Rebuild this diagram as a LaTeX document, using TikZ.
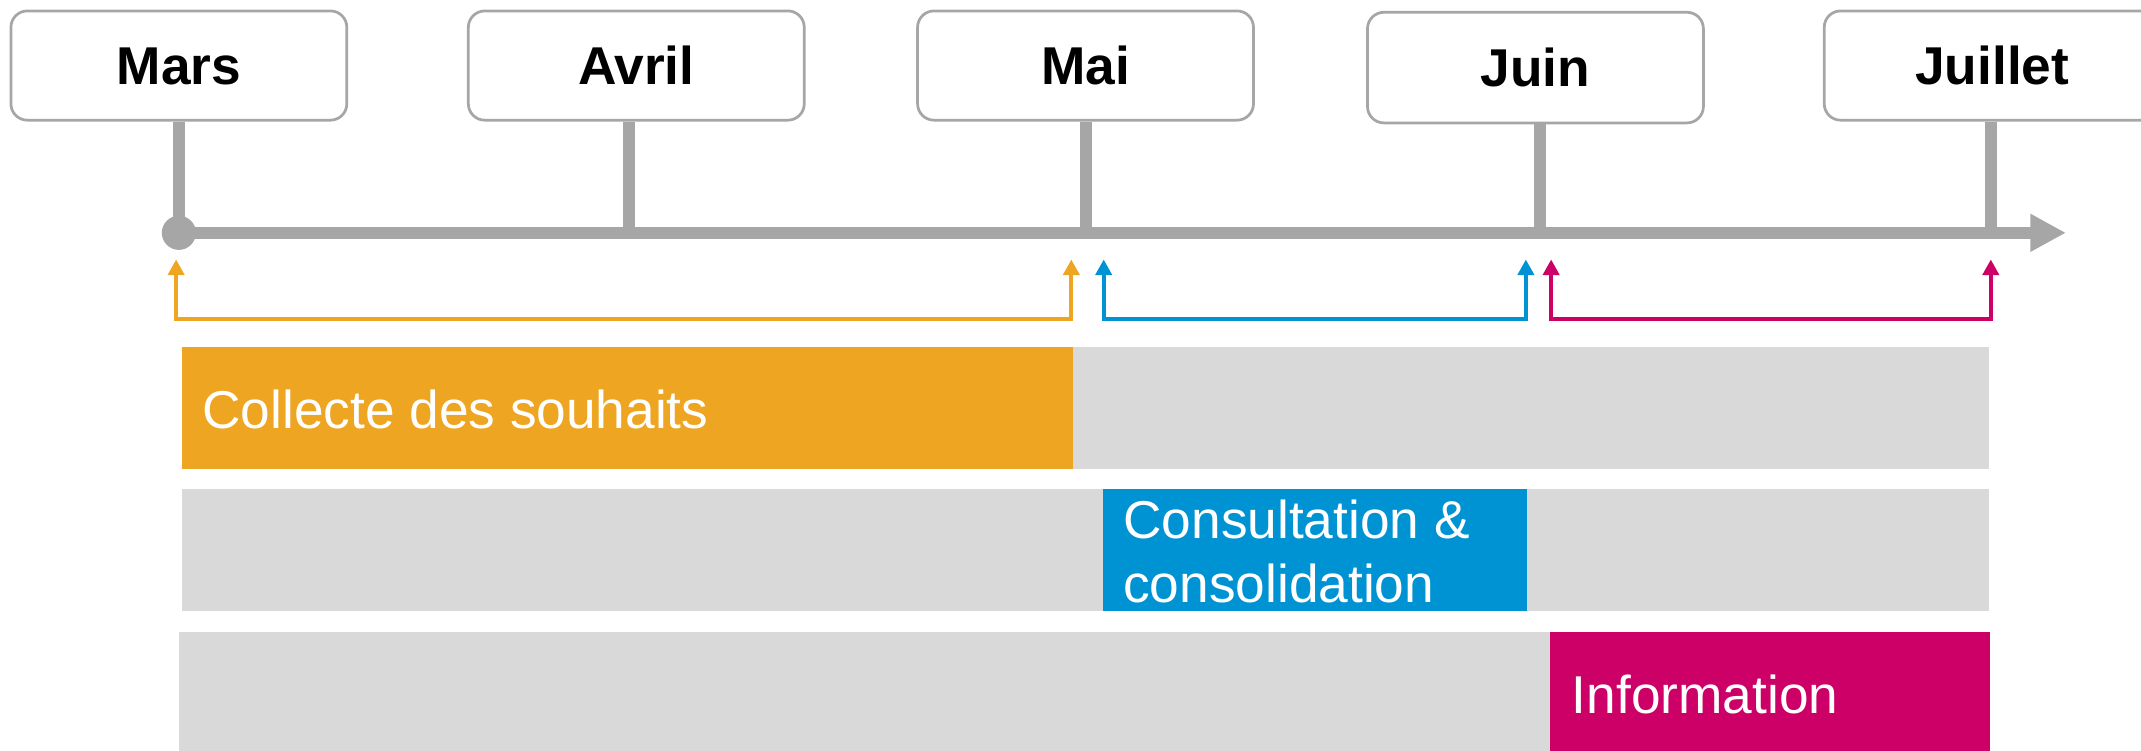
\documentclass[tikz,border=0pt]{standalone}
\usepackage{fontspec}
\setmainfont{Liberation Sans}
\usetikzlibrary{arrows.meta}
\definecolor{lgray}{HTML}{A6A6A6}
\definecolor{bgray}{HTML}{D9D9D9}
\definecolor{orng}{HTML}{EEA522}
\definecolor{blu}{HTML}{0093D3}
\definecolor{mag}{HTML}{CC0066}
\begin{document}
\begin{tikzpicture}[x=1pt,y=-1pt,
  month/.style={draw=lgray,line width=2pt,fill=white,rounded corners=12pt,
    minimum width=246pt,minimum height=80pt,inner sep=0pt,
    text height=28pt,text depth=0pt,
    font=\fontsize{39}{47}\selectfont\bfseries},
  stem/.style={draw=lgray,line width=8.8pt},
  axis/.style={draw=lgray,line width=8.8pt,-{Triangle[length=26pt,width=26pt]}},
  bracket/.style={line width=2.9pt,miter limit=10,
    {Triangle[length=11.5pt,width=11.8pt]}-{Triangle[length=11.5pt,width=11.8pt]}},
  lbl/.style={text=white,font=\fontsize{39}{46}\selectfont,anchor=base west,inner sep=0pt}]
\useasboundingbox (0,0) rectangle (1568,550);
% bars
\fill[bgray] (133,254) rectangle (1457,343.5);
\fill[orng] (133,254) rectangle (786,343.5);
\fill[bgray] (133,358) rectangle (1457,447.5);
\fill[blu] (808,358) rectangle (1118.5,447.5);
\fill[bgray] (131,463) rectangle (1457.5,550);
\fill[mag] (1135,463) rectangle (1457.5,550);
\node[lbl] (collecte) at (148,313.5) {Collecte des souhaits};
\node[lbl] (consA) at (822.5,394.7) {Consultation \&};
\node[lbl] (consB) at (822.5,441.3) {consolidation};
\node[lbl] (info) at (1151,522.3) {Information};
% month boxes
\node[month] (mars) at (131,48) {Mars};
\node[month] (avril) at (466,48) {Avril};
\node[month] (mai) at (795,48) {Mai};
\node[month,minimum height=81pt] (juin) at (1124.5,49.5) {Juin};
\node[month] (juillet) at (1459,48) {Juillet};
% timeline points
\coordinate (t1) at (131,170.5);
\coordinate (t2) at (461,170.5);
\coordinate (t3) at (795,170.5);
\coordinate (t4) at (1127.5,170.5);
\coordinate (t5) at (1458,170.5);
\coordinate (tend) at (1513,170.5);
\draw[stem] (t1 |- mars.south) -- (t1);
\draw[stem] (t2 |- avril.south) -- (t2);
\draw[stem] (t3 |- mai.south) -- (t3);
\draw[stem] (t4 |- juin.south) -- (t4);
\draw[stem] (t5 |- juillet.south) -- (t5);
\draw[axis] (t1) -- (tend);
\fill[lgray] (t1) circle[radius=12.5pt];
% brackets
\coordinate (oa) at (129,190);
\coordinate (ob) at (784.6,190);
\coordinate (ba) at (808.3,190);
\coordinate (bb) at (1117.5,190);
\coordinate (ma) at (1136,190);
\coordinate (mb) at (1458,190);
\draw[bracket,orng] (oa) -- ++(0,43.5) -| (ob);
\draw[bracket,blu] (ba) -- ++(0,43.5) -| (bb);
\draw[bracket,mag] (ma) -- ++(0,43.5) -| (mb);
\end{tikzpicture}
\end{document}
